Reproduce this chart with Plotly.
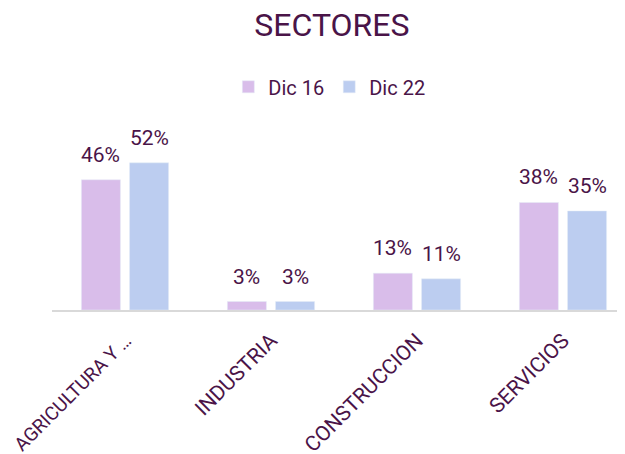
import plotly.graph_objects as go

categories = ["AGRICULTURA Y …", "INDUSTRIA", "CONSTRUCCION", "SERVICIOS"]
tick_labels = ['<span style="font-size:19px">AGRICULTURA Y …</span>', "INDUSTRIA", "CONSTRUCCION", "SERVICIOS"]
dic16 = [46, 3, 13, 38]
dic22 = [52, 3, 11, 35]
series_names = ["Dic 16", "Dic 22"]
colors = ["#d9bdea", "#bccdf0"]
text_color = "#4a1448"
font_family = "Roboto, sans-serif"

fig = go.Figure()
offsets = [-0.165, 0.165]
for name, vals, col, off in zip(series_names, [dic16, dic22], colors, offsets):
    fig.add_trace(go.Bar(
        x=categories, y=vals, name=name, marker_color=col,
        offsetgroup=name,
    ))
    for i, (c, v) in enumerate(zip(categories, vals)):
        fig.add_annotation(
            x=i + off, y=v, xref="x", yref="y", text=f"{v}%",
            showarrow=False, yanchor="bottom", yshift=11,
            font=dict(color=text_color, size=21, family=font_family),
        )

fig.update_layout(
    width=617, height=446,
    margin=dict(l=44, r=0, t=122, b=144, autoexpand=False),
    paper_bgcolor="white", plot_bgcolor="white",
    barmode="group", bargap=0.34, bargroupgap=0.19,
    font=dict(family=font_family, color=text_color),
    title=dict(text="SECTORES", x=0.525, xanchor="center", y=0.962, yanchor="middle",
               font=dict(size=32, color=text_color, family=font_family)),
    legend=dict(orientation="h", x=0.484, xanchor="center", y=1.24, yanchor="middle",
                font=dict(size=20, color=text_color, family=font_family),
                itemwidth=30, traceorder="normal"),
    xaxis=dict(range=[-0.5, 3.425], showline=True, linecolor="#d9d9d9", linewidth=2,
               tickmode="array", tickvals=categories, ticktext=tick_labels,
               tickangle=-45, tickfont=dict(size=21, color=text_color, family=font_family),
               ticks="", ticklabelstandoff=8, showgrid=False, automargin=False),
    yaxis=dict(range=[0, 63.6], visible=False, showgrid=False, automargin=False),
)

fig.write_html("out.html")
